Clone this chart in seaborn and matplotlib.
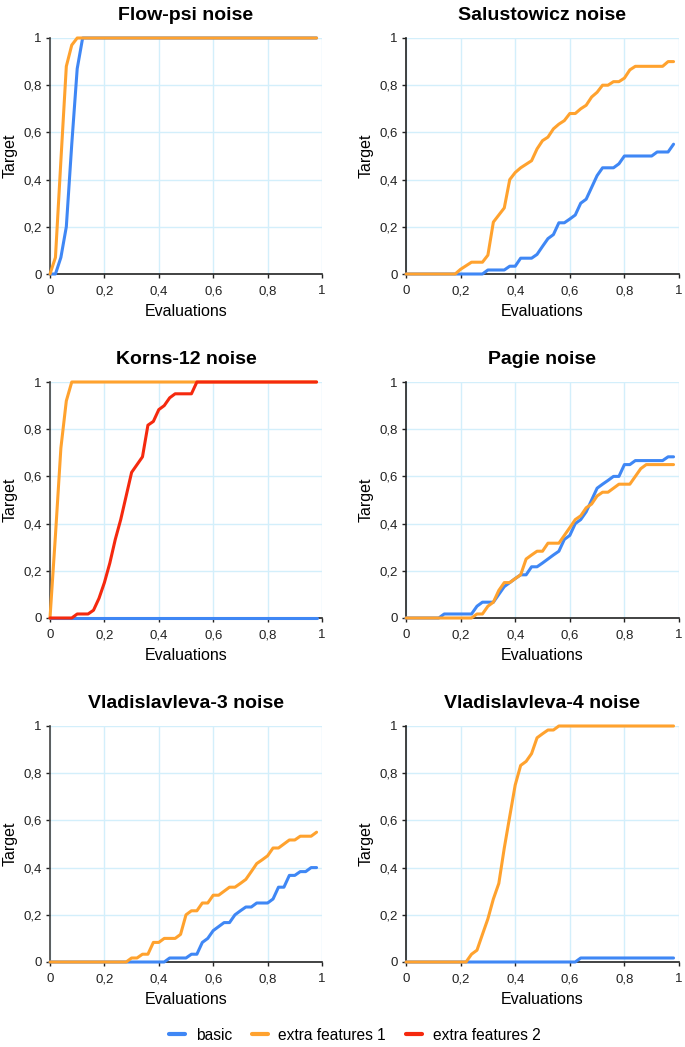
import numpy as np
import pandas as pd
import seaborn as sns
import matplotlib
matplotlib.use('Agg')
import matplotlib.pyplot as plt
from matplotlib.ticker import FuncFormatter
from matplotlib.lines import Line2D

sns.set_style("white")
plt.rcParams['font.family'] = ['Liberation Sans', 'DejaVu Sans']
plt.rcParams['text.color'] = 'black'
plt.rcParams['axes.labelcolor'] = 'black'

# === Data: evaluations sampled every 0.02 from 0 to 0.98 ===
evals = [round(i * 0.02, 2) for i in range(50)]

flow_basic = [0, 0, 0.07, 0.2, 0.55, 0.87] + [1] * 44
flow_extra1 = [0, 0.07, 0.48, 0.88, 0.97] + [1] * 45

salu_basic = [0] * 15 + [0.017, 0.017, 0.017, 0.017, 0.033, 0.033, 0.067, 0.067, 0.067, 0.083,
              0.117, 0.15, 0.167, 0.217, 0.217, 0.233, 0.25, 0.30, 0.317, 0.367,
              0.417, 0.45, 0.45, 0.45, 0.467, 0.50, 0.50, 0.50, 0.50, 0.50,
              0.50, 0.517, 0.517, 0.517, 0.55]
salu_extra1 = [0] * 10 + [0.02, 0.035, 0.05, 0.05, 0.05, 0.08, 0.22, 0.25, 0.28, 0.40,
               0.43, 0.45, 0.465, 0.48, 0.53, 0.565, 0.58, 0.615, 0.635, 0.65,
               0.68, 0.68, 0.70, 0.715, 0.75, 0.77, 0.80, 0.80, 0.815, 0.815,
               0.83, 0.865, 0.88, 0.88, 0.88, 0.88, 0.88, 0.88, 0.90, 0.90]

korns_basic = [0] * 50
korns_extra1 = [0, 0.35, 0.72, 0.92] + [1] * 46
korns_extra2 = [0] * 5 + [0.017, 0.017, 0.017, 0.033, 0.083, 0.15, 0.233, 0.333, 0.417, 0.517,
                0.617, 0.65, 0.683, 0.817, 0.833, 0.883, 0.90, 0.933, 0.95, 0.95,
                0.95, 0.95, 1.0] + [1] * 22

pagie_basic = [0] * 7 + [0.017, 0.017, 0.017, 0.017, 0.017, 0.017, 0.05, 0.067, 0.067,
               0.067, 0.10, 0.133, 0.15, 0.167, 0.183, 0.183, 0.217, 0.217, 0.233,
               0.25, 0.267, 0.283, 0.333, 0.35, 0.40, 0.417, 0.45, 0.50, 0.55,
               0.567, 0.583, 0.60, 0.60, 0.65, 0.65, 0.667, 0.667, 0.667, 0.667,
               0.667, 0.667, 0.683, 0.683, 0.683]
pagie_extra1 = [0] * 13 + [0.017, 0.017, 0.05, 0.067, 0.117, 0.15, 0.15, 0.167, 0.183, 0.25,
                0.267, 0.283, 0.283, 0.317, 0.317, 0.317, 0.35, 0.383, 0.417, 0.433,
                0.467, 0.483, 0.517, 0.533, 0.533, 0.55, 0.567, 0.567, 0.567, 0.60,
                0.633, 0.65, 0.65, 0.65, 0.65, 0.65, 0.65, 0.683]

vlad3_basic = [0] * 22 + [0.017, 0.017, 0.017, 0.017, 0.033, 0.033, 0.083, 0.10, 0.133,
              0.15, 0.167, 0.167, 0.20, 0.217, 0.233, 0.233, 0.25, 0.25, 0.25,
              0.267, 0.317, 0.317, 0.367, 0.367, 0.383, 0.383, 0.40, 0.40]
vlad3_extra1 = [0] * 15 + [0.017, 0.017, 0.033, 0.033, 0.083, 0.083, 0.10, 0.10, 0.10, 0.117,
                0.20, 0.217, 0.217, 0.25, 0.25, 0.283, 0.283, 0.30, 0.317, 0.317,
                0.333, 0.35, 0.383, 0.417, 0.433, 0.45, 0.483, 0.483, 0.50, 0.517,
                0.517, 0.533, 0.533, 0.533, 0.55]

vlad4_basic = [0] * 32 + [0.017] * 18
vlad4_extra1 = [0] * 12 + [0.033, 0.05, 0.117, 0.183, 0.267, 0.333, 0.483, 0.617, 0.75,
                0.833, 0.85, 0.883, 0.95, 0.967, 0.983, 0.983, 1.0] + [1] * 21

titles = ["Flow-psi noise", "Salustowicz noise", "Korns-12 noise",
          "Pagie noise", "Vladislavleva-3 noise", "Vladislavleva-4 noise"]
series_names = ["basic", "extra features 1", "extra features 2"]
panels = [
    {"basic": flow_basic, "extra features 1": flow_extra1},
    {"basic": salu_basic, "extra features 1": salu_extra1},
    {"basic": korns_basic, "extra features 1": korns_extra1, "extra features 2": korns_extra2},
    {"basic": pagie_basic, "extra features 1": pagie_extra1},
    {"basic": vlad3_basic, "extra features 1": vlad3_extra1},
    {"basic": vlad4_basic, "extra features 1": vlad4_extra1},
]

palette = {"basic": "#3f87f5", "extra features 1": "#ffa22e", "extra features 2": "#f5290e"}

# === Plot ===
fig = plt.figure(figsize=(6.85, 10.47), dpi=100)
lefts = [50 / 685, 406 / 685]
widths = [272 / 685, 273 / 685]
bottoms = [1 - 274 / 1047, 1 - 618 / 1047, 1 - 962 / 1047]
height = 236 / 1047

comma = FuncFormatter(lambda v, p: ('%g' % round(v, 2)).replace('.', ','))

for i, (title, data) in enumerate(zip(titles, panels)):
    row, col = divmod(i, 2)
    ax = fig.add_axes([lefts[col], bottoms[row], widths[col], height])
    rows = []
    for name, vals in data.items():
        for x, y in zip(evals, vals):
            rows.append({"Evaluations": x, "Target": y, "series": name})
    df = pd.DataFrame(rows)
    # draw the later series on top, like the original
    for name in data:
        sub = df[df["series"] == name]
        sns.lineplot(data=sub, x="Evaluations", y="Target", color=palette[name],
                     linewidth=2.2, ax=ax, legend=False, clip_on=False, zorder=3)
    ax.set_xlim(0, 1)
    ax.set_ylim(0, 1)
    ax.set_xticks(np.arange(0, 1.01, 0.2))
    ax.set_yticks(np.arange(0, 1.01, 0.2))
    ax.xaxis.set_major_formatter(comma)
    ax.yaxis.set_major_formatter(comma)
    ax.grid(True, color="#d3effb", linewidth=1)
    ax.set_axisbelow(True)
    for s in ["top", "right"]:
        ax.spines[s].set_visible(False)
    ax.spines["left"].set_color("#444444" if col == 0 else "#222222")
    ax.spines["bottom"].set_color("#222222")
    ax.spines["left"].set_linewidth(1.2)
    ax.spines["bottom"].set_linewidth(1.2)
    ax.tick_params(axis="both", direction="out", length=3, width=1, labelsize=9.5,
                   colors="#222222", left=True, bottom=True)
    ax.tick_params(axis="x", pad=5)
    ax.tick_params(axis="y", pad=3)
    ax.set_title(title, fontsize=14, fontweight="bold", pad=13)
    ax.set_xlabel("Evaluations", fontsize=11.5, labelpad=5)
    ax.set_ylabel("Target", fontsize=11.5, labelpad=4)

handles = [Line2D([0], [0], color=palette[n], linewidth=3) for n in series_names]
fig.legend(handles, series_names, loc="center", bbox_to_anchor=(0.518, 1 - 1035 / 1047),
           ncol=3, frameon=False, fontsize=11.2, handlelength=1.0, handletextpad=0.7,
           columnspacing=1.3)

plt.savefig("out.png", dpi=100)
